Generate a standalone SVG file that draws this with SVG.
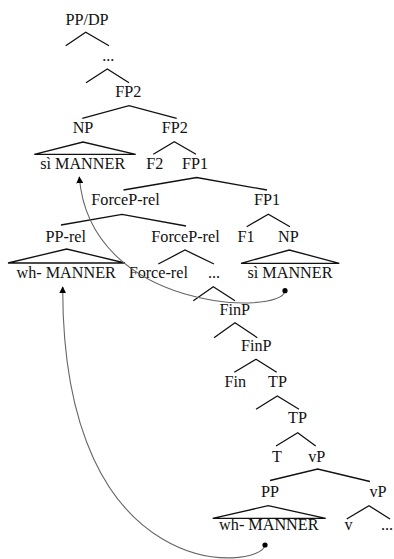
<svg xmlns="http://www.w3.org/2000/svg" width="394" height="559" viewBox="0 0 394 559">
  <style>
    text { font-family: 'Liberation Serif', 'Times New Roman', Tinos, 'DejaVu Serif', serif; font-size: 16.2px; fill: #111; text-anchor: middle; }
    .br { fill: none; stroke: #111; stroke-width: 1.3; stroke-linejoin: miter; }
    .mv { fill: none; stroke: #666; stroke-width: 1.1; }
    .dot { fill: #000; }
  </style>
  <defs>
    <marker id="head" viewBox="0 0 10 10" refX="9" refY="5" markerWidth="7" markerHeight="7" markerUnits="userSpaceOnUse" orient="auto">
      <path d="M0,0 L10,5 L0,10 z" fill="#000"/>
    </marker>
  </defs>

  <!-- tree nodes -->
  <g id="n-ppdp"><text x="87" y="25">PP/DP</text></g>
  <g id="n-dots1"><text x="108.3" y="61">...</text></g>
  <g id="n-fp2a"><text x="128.3" y="96.7">FP2</text></g>
  <g id="n-np1"><text x="83" y="132.7">NP</text></g>
  <g id="n-fp2b"><text x="174.7" y="132.7">FP2</text></g>
  <g id="n-simanner1"><text x="82.7" y="169">sì MANNER</text></g>
  <g id="n-f2"><text x="154.7" y="169">F2</text></g>
  <g id="n-fp1a"><text x="195" y="169">FP1</text></g>
  <g id="n-forcep1"><text x="125.5" y="205">ForceP-rel</text></g>
  <g id="n-fp1b"><text x="267" y="205">FP1</text></g>
  <g id="n-pprel"><text x="65.8" y="241.7">PP-rel</text></g>
  <g id="n-forcep2"><text x="185.5" y="242">ForceP-rel</text></g>
  <g id="n-f1"><text x="246" y="241.7">F1</text></g>
  <g id="n-np2"><text x="288.3" y="241.7">NP</text></g>
  <g id="n-whmanner1"><text x="66.2" y="278">wh- MANNER</text></g>
  <g id="n-forcerel"><text x="158.3" y="278">Force-rel</text></g>
  <g id="n-dots2"><text x="214" y="278">...</text></g>
  <g id="n-simanner2"><text x="290" y="278.3">sì MANNER</text></g>
  <g id="n-finp1"><text x="234.7" y="315">FinP</text></g>
  <g id="n-finp2"><text x="256.2" y="351">FinP</text></g>
  <g id="n-fin"><text x="235.3" y="386.7">Fin</text></g>
  <g id="n-tp1"><text x="277.5" y="386.7">TP</text></g>
  <g id="n-tp2"><text x="297.5" y="423.3">TP</text></g>
  <g id="n-t"><text x="277" y="461.7">T</text></g>
  <g id="n-vp1"><text x="316.7" y="461.7">vP</text></g>
  <g id="n-pp"><text x="270" y="496.7">PP</text></g>
  <g id="n-vp2"><text x="378" y="496.7">vP</text></g>
  <g id="n-whmanner2"><text x="268.8" y="530">wh- MANNER</text></g>
  <g id="n-v"><text x="348.5" y="530">v</text></g>
  <g id="n-dots3"><text x="387" y="530">...</text></g>

  <!-- branches and triangles -->
  <g id="connectors">
    <polyline class="br" points="65.7,45.7 85.7,32.3 109,45.7"/>
    <polyline class="br" points="86,82.7 107.3,69 129,82.7"/>
    <polyline class="br" points="82.3,118.3 129,105.7 176.7,118.3"/>
    <polyline class="br" points="153.3,154.3 174.3,141.7 196,154.3"/>
    <polyline class="br" points="123.5,190 196.7,177.5 267,190"/>
    <polyline class="br" points="61,225 122,214.3 186,226"/>
    <polyline class="br" points="246.7,226.7 268.3,214.3 290,226.7"/>
    <polyline class="br" points="158.3,264 185,250 214,264"/>
    <polyline class="br" points="193.3,300.7 213.3,286.7 235,300.7"/>
    <polyline class="br" points="214,337.7 235,322.7 257.3,337.7"/>
    <polyline class="br" points="234.3,372.3 256,359.3 276.7,372.3"/>
    <polyline class="br" points="256,409.3 277.3,396 299,409.3"/>
    <polyline class="br" points="276,446 297.7,432.7 315.7,446"/>
    <polyline class="br" points="270,480.5 317.7,469 370,481.5"/>
    <polyline class="br" points="346.7,519 369,505.7 390,519"/>

    <polygon class="br" points="34.3,154.3 83,142 135.7,154.3"/>
    <polygon class="br" points="8,263 66.7,249 125,263"/>
    <polygon class="br" points="241,263.3 289.3,250 339.3,263.3"/>
    <polygon class="br" points="212.7,518.3 268.3,505.7 325.7,518.3"/>

    <!-- movement arrows -->
    <path class="mv" d="M285,291 C282,316 90,312 79.3,177" marker-end="url(#head)"/>
    <circle class="dot" cx="285" cy="290.7" r="2.6"/>
    <path class="mv" d="M265,545 C262,570 62,590 62.7,287" marker-end="url(#head)"/>
    <circle class="dot" cx="265" cy="545" r="2.6"/>
  </g>
</svg>
